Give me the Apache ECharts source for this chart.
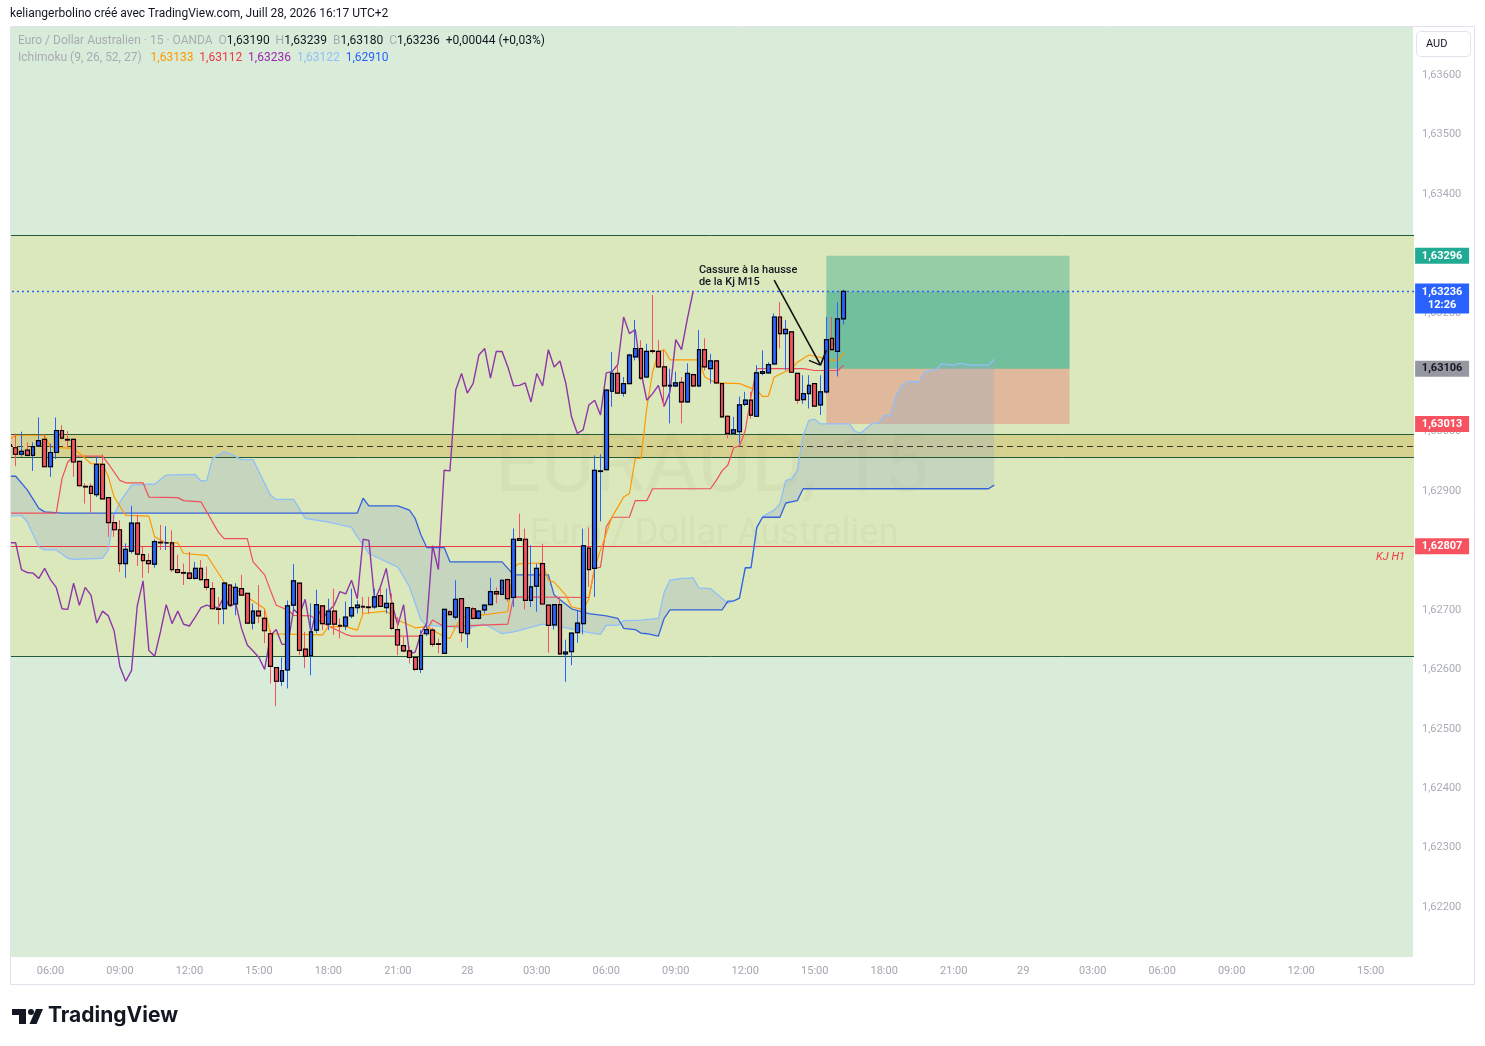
<!DOCTYPE html>
<html><head><meta charset="utf-8">
<script src="https://cdn.jsdelivr.net/npm/echarts@6/dist/echarts.min.js"></script>
<style>html,body{margin:0;padding:0;background:#fff}#c{width:1485px;height:1046px}</style>
</head><body><div id="c"></div>
<script>
// ---------- DATA ----------
// 15-minute candles [open, high, low, close], first bar = 27 Jul 04:15
const ohlc = [
[1.62978,1.62986,1.62969,1.62976],[1.62973,1.62997,1.62942,1.62962],[1.62962,1.63000,1.62958,1.62967],[1.62969,1.62982,1.62958,1.62960],
[1.62960,1.62982,1.62934,1.62975],[1.62976,1.63024,1.62974,1.62985],[1.62987,1.62995,1.62941,1.62941],[1.62941,1.62980,1.62924,1.62965],
[1.62965,1.63024,1.62954,1.63002],[1.63002,1.63011,1.62987,1.62989],[1.62987,1.63001,1.62974,1.62986],[1.62987,1.62988,1.62924,1.62949],
[1.62950,1.62951,1.62908,1.62909],[1.62908,1.62913,1.62879,1.62907],[1.62908,1.62913,1.62862,1.62896],[1.62894,1.62958,1.62890,1.62945],
[1.62945,1.62962,1.62886,1.62887],[1.62889,1.62890,1.62823,1.62847],[1.62847,1.62860,1.62823,1.62835],[1.62835,1.62851,1.62764,1.62778],
[1.62778,1.62812,1.62754,1.62802],[1.62799,1.62875,1.62795,1.62846],[1.62846,1.62860,1.62774,1.62794],[1.62793,1.62806,1.62754,1.62783],
[1.62783,1.62795,1.62762,1.62778],[1.62777,1.62819,1.62771,1.62815],[1.62814,1.62843,1.62801,1.62813],[1.62813,1.62841,1.62801,1.62813],
[1.62813,1.62834,1.62764,1.62768],[1.62768,1.62793,1.62761,1.62763],[1.62763,1.62778,1.62742,1.62762],[1.62762,1.62798,1.62751,1.62753],
[1.62753,1.62781,1.62751,1.62770],[1.62770,1.62784,1.62750,1.62751],[1.62751,1.62773,1.62733,1.62738],[1.62736,1.62747,1.62702,1.62702],
[1.62702,1.62722,1.62676,1.62701],[1.62702,1.62747,1.62676,1.62745],[1.62742,1.62743,1.62707,1.62708],[1.62710,1.62745,1.62691,1.62738],
[1.62736,1.62759,1.62725,1.62725],[1.62728,1.62728,1.62678,1.62678],[1.62678,1.62711,1.62667,1.62698],[1.62698,1.62742,1.62678,1.62690],
[1.62686,1.62700,1.62644,1.62665],[1.62660,1.62666,1.62576,1.62605],[1.62603,1.62603,1.62538,1.62580],[1.62580,1.62620,1.62572,1.62598],
[1.62599,1.62716,1.62568,1.62707],[1.62708,1.62777,1.62700,1.62749],[1.62745,1.62746,1.62624,1.62632],[1.62634,1.62663,1.62602,1.62622],
[1.62623,1.62711,1.62590,1.62663],[1.62666,1.62734,1.62661,1.62709],[1.62707,1.62708,1.62666,1.62677],[1.62676,1.62719,1.62666,1.62698],
[1.62698,1.62736,1.62658,1.62676],[1.62674,1.62686,1.62652,1.62673],[1.62673,1.62714,1.62666,1.62688],[1.62690,1.62736,1.62686,1.62704],
[1.62704,1.62716,1.62694,1.62708],[1.62706,1.62722,1.62694,1.62705],[1.62705,1.62722,1.62694,1.62704],[1.62705,1.62736,1.62702,1.62722],
[1.62724,1.62736,1.62705,1.62706],[1.62704,1.62736,1.62694,1.62711],[1.62711,1.62728,1.62666,1.62669],[1.62667,1.62688,1.62624,1.62641],
[1.62640,1.62655,1.62629,1.62631],[1.62631,1.62638,1.62610,1.62620],[1.62620,1.62621,1.62597,1.62600],[1.62600,1.62666,1.62594,1.62657],
[1.62660,1.62676,1.62656,1.62667],[1.62666,1.62670,1.62638,1.62642],[1.62643,1.62652,1.62627,1.62642],[1.62627,1.62702,1.62626,1.62701],
[1.62697,1.62700,1.62691,1.62692],[1.62688,1.62750,1.62684,1.62718],[1.62719,1.62720,1.62646,1.62662],[1.62660,1.62705,1.62636,1.62704],
[1.62702,1.62705,1.62684,1.62686],[1.62686,1.62700,1.62684,1.62698],[1.62700,1.62709,1.62694,1.62708],[1.62709,1.62754,1.62708,1.62731],
[1.62731,1.62738,1.62711,1.62727],[1.62726,1.62751,1.62725,1.62750],[1.62751,1.62753,1.62714,1.62719],[1.62721,1.62837,1.62705,1.62819],
[1.62820,1.62862,1.62816,1.62817],[1.62819,1.62837,1.62701,1.62716],[1.62716,1.62809,1.62705,1.62739],[1.62740,1.62778,1.62697,1.62770],
[1.62778,1.62811,1.62709,1.62710],[1.62708,1.62709,1.62628,1.62674],[1.62675,1.62710,1.62667,1.62709],[1.62709,1.62722,1.62625,1.62626],
[1.62626,1.62650,1.62579,1.62629],[1.62630,1.62662,1.62607,1.62661],[1.62662,1.62700,1.62645,1.62678],[1.62677,1.62837,1.62659,1.62808],
[1.62804,1.62839,1.62739,1.62768],[1.62770,1.62960,1.62722,1.62935],[1.62933,1.62962,1.62849,1.62934],[1.62936,1.63071,1.62935,1.63070],
[1.63068,1.63134,1.63042,1.63098],[1.63098,1.63112,1.63064,1.63065],[1.63065,1.63092,1.63059,1.63081],[1.63081,1.63131,1.63080,1.63129],
[1.63126,1.63188,1.63120,1.63140],[1.63140,1.63154,1.63087,1.63090],[1.63092,1.63148,1.63090,1.63135],[1.63136,1.63230,1.63131,1.63135],
[1.63135,1.63154,1.63108,1.63109],[1.63109,1.63137,1.63042,1.63077],[1.63077,1.63106,1.63014,1.63078],[1.63077,1.63101,1.63075,1.63082],
[1.63083,1.63092,1.63014,1.63050],[1.63050,1.63115,1.63049,1.63098],[1.63096,1.63098,1.63075,1.63077],[1.63077,1.63171,1.63075,1.63138],
[1.63138,1.63157,1.63103,1.63109],[1.63106,1.63131,1.63081,1.63119],[1.63119,1.63120,1.63081,1.63082],[1.63081,1.63082,1.63024,1.63025],
[1.63026,1.63027,1.62989,1.62997],[1.62997,1.63025,1.62994,1.63003],[1.63000,1.63059,1.62980,1.63045],[1.63046,1.63067,1.63043,1.63053],
[1.63053,1.63067,1.63022,1.63028],[1.63026,1.63112,1.63025,1.63099],[1.63098,1.63137,1.63095,1.63101],[1.63099,1.63117,1.63098,1.63113],
[1.63114,1.63199,1.63113,1.63193],[1.63193,1.63218,1.63140,1.63165],[1.63165,1.63188,1.63103,1.63172],[1.63168,1.63169,1.63099,1.63100],
[1.63098,1.63099,1.63047,1.63053],[1.63054,1.63095,1.63047,1.63064],[1.63064,1.63095,1.63039,1.63078],[1.63081,1.63082,1.63042,1.63043],
[1.63045,1.63095,1.63028,1.63067],[1.63067,1.63193,1.63064,1.63155],[1.63157,1.63193,1.63137,1.63138],[1.63135,1.63218,1.63093,1.63190],
[1.63190,1.63239,1.63180,1.63236]
];
const changeAbs = 0.00044, changePct = 0.03;

// Ichimoku lines: [bar index, price] at the vertices
const tenkan = [[0,1.62987],[1,1.62994],[6,1.62994],[7,1.62974],[11,1.62972],[13,1.62955],[14,1.62946],[16,1.62946],[17,1.62924],[18,1.62890],[20,1.62859],[24,1.62858],[25,1.62823],[27,1.62813],[29,1.62813],[30,1.62795],[34,1.62792],[37,1.62747],[41,1.62722],[44,1.62702],[45,1.62660],[54,1.62658],[55,1.62672],[58,1.62672],[60,1.62666],[61,1.62694],[65,1.62698],[67,1.62683],[70,1.62670],[72,1.62672],[75,1.62655],[76,1.62652],[77,1.62672],[78,1.62688],[81,1.62691],[86,1.62697],[87,1.62772],[88,1.62778],[92,1.62779],[93,1.62750],[94,1.62747],[96,1.62725],[97,1.62705],[99,1.62701],[100,1.62719],[101,1.62772],[104,1.62857],[105,1.62873],[106,1.62890],[107,1.62896],[108,1.62955],[109,1.62955],[110,1.63040],[111,1.63100],[112,1.63134],[113,1.63138],[114,1.63121],[119,1.63121],[120,1.63092],[122,1.63082],[126,1.63081],[127,1.63077],[129,1.63070],[130,1.63059],[131,1.63060],[132,1.63092],[135,1.63106],[136,1.63117],[138,1.63129],[140,1.63125],[141,1.63121],[143,1.63120],[144,1.63133]];
const kijun = [[0,1.62863],[8,1.62863],[9,1.62921],[10,1.62949],[11,1.62959],[16,1.62959],[17,1.62946],[19,1.62918],[20,1.62914],[23,1.62914],[24,1.62890],[29,1.62889],[30,1.62884],[33,1.62882],[36,1.62831],[37,1.62820],[41,1.62820],[42,1.62781],[44,1.62759],[45,1.62733],[46,1.62708],[48,1.62700],[49,1.62691],[52,1.62690],[55,1.62673],[58,1.62659],[59,1.62656],[71,1.62656],[72,1.62666],[73,1.62683],[75,1.62672],[86,1.62676],[87,1.62722],[100,1.62721],[101,1.62770],[102,1.62772],[103,1.62840],[104,1.62856],[107,1.62856],[108,1.62884],[110,1.62884],[111,1.62904],[121,1.62904],[122,1.62918],[123,1.62934],[124,1.62944],[125,1.62973],[126,1.62976],[127,1.63002],[128,1.63060],[129,1.63106],[137,1.63106],[139,1.63103],[143,1.63103],[144,1.63112]];
const senkouA = [[0,1.62858],[2,1.62859],[3,1.62848],[5,1.62806],[6,1.62801],[8,1.62801],[10,1.62787],[11,1.62785],[16,1.62787],[17,1.62801],[18,1.62859],[19,1.62882],[21,1.62910],[25,1.62912],[27,1.62927],[32,1.62928],[33,1.62917],[34,1.62918],[35,1.62955],[37,1.62966],[38,1.62963],[40,1.62953],[42,1.62953],[45,1.62893],[46,1.62886],[49,1.62886],[51,1.62854],[55,1.62848],[59,1.62839],[60,1.62823],[62,1.62795],[67,1.62772],[69,1.62739],[70,1.62711],[71,1.62683],[72,1.62674],[76,1.62672],[79,1.62667],[80,1.62672],[82,1.62676],[85,1.62660],[87,1.62663],[92,1.62676],[94,1.62674],[100,1.62662],[102,1.62659],[103,1.62674],[105,1.62674],[106,1.62682],[109,1.62683],[112,1.62686],[113,1.62730],[114,1.62750],[116,1.62753],[118,1.62754],[119,1.62737],[121,1.62736],[124,1.62711],[126,1.62720],[127,1.62770],[128,1.62772],[129,1.62839],[130,1.62857],[132,1.62868],[133,1.62879],[134,1.62918],[135,1.62920],[136,1.62935],[137,1.62993],[138,1.63019],[139,1.63021],[140,1.63013],[145,1.63013],[146,1.63000],[147,1.62998],[149,1.63014],[150,1.63014],[151,1.63028],[152,1.63026],[153,1.63059],[154,1.63077],[155,1.63084],[157,1.63084],[158,1.63101],[160,1.63105],[161,1.63114],[163,1.63112],[164,1.63115],[166,1.63112],[169,1.63112],[170,1.63122]];
const senkouB = [[0,1.62925],[1,1.62925],[3,1.62902],[5,1.62871],[6,1.62865],[9,1.62863],[60,1.62863],[61,1.62888],[62,1.62875],[67,1.62875],[69,1.62868],[70,1.62854],[71,1.62826],[72,1.62805],[75,1.62805],[76,1.62781],[85,1.62781],[87,1.62759],[93,1.62759],[94,1.62725],[97,1.62702],[100,1.62694],[103,1.62690],[105,1.62686],[106,1.62669],[108,1.62667],[109,1.62661],[110,1.62660],[112,1.62656],[113,1.62686],[114,1.62700],[123,1.62700],[124,1.62715],[125,1.62715],[126,1.62720],[127,1.62771],[128,1.62771],[129,1.62839],[130,1.62856],[133,1.62856],[134,1.62880],[136,1.62884],[137,1.62904],[169,1.62904],[170,1.62910]];
const chikouShift = 26;

// horizontal levels
const zoneLevels = [1.62622, 1.63331];     // large rectangle
const bandLevels = [1.62957, 1.62996];     // narrow band
const bandMid = 1.62976;                   // dashed line
const kjH1 = 1.62807;
const lastPrice = 1.63236;
// long position
const posTP = 1.63296, posEntry = 1.63106, posSL = 1.63013;
const posBars = [141, 182.5];
// arrow annotation [bar, price]
const arrowStart = [131.9, 1.63255], arrowTip = [140.2, 1.63112], arrowHead1 = [137.6, 1.63120], arrowHead2 = [140.8, 1.63137];
const notePos = [118.5, 1.63262];

const yTicks = [1.622,1.623,1.624,1.625,1.626,1.627,1.628,1.629,1.630,1.631,1.632,1.633,1.634,1.635,1.636];
const tickLabels = ['06:00','09:00','12:00','15:00','18:00','21:00','28','03:00','06:00','09:00','12:00','15:00','18:00','21:00','29','03:00','06:00','09:00','12:00','15:00'];
const firstTickBar = 7, barsPerTick = 12, barCount = 243;
const tagPrices = [posTP, lastPrice, posEntry, posSL, kjH1];

// ---------- BUILD ----------
const fmt = v => v.toFixed(5).replace('.', ',');
const categories = [];
for (let i = 0; i < barCount; i++) {
  const m = 4 * 60 + 15 + 15 * i;
  const d = 27 + Math.floor(m / 1440), mm = m % 1440;
  categories.push(d + ' ' + String(Math.floor(mm / 60)).padStart(2, '0') + ':' + String(mm % 60).padStart(2, '0'));
}
const candleFull = ohlc.map(r => [r[0], r[3], r[2], r[1]]);
const candleBody = ohlc.map(r => [r[0], r[3], Math.min(r[0], r[3]), Math.max(r[0], r[3])]);
const chikou = ohlc.slice(chikouShift).map((r, j) => [j, r[3]]);
const last = ohlc[ohlc.length - 1];

const FONT = 'Roboto, "Liberation Sans", sans-serif';
const tagStyle = [
  {bg:'#22ab94', fg:'#ffffff'}, {bg:'#2962ff', fg:'#ffffff'}, {bg:'#9598a1', fg:'#131722'},
  {bg:'#f7525f', fg:'#ffffff'}, {bg:'#f7525f', fg:'#ffffff'}
];

const chart = echarts.init(document.getElementById('c'));
const hl = (v, extra) => Object.assign({yAxis: v}, extra || {});
const greenLine = {color:'#245b3b', width:1, type:'solid'};
const LS = 12;

chart.setOption({
  animation: false,
  backgroundColor: '#ffffff',
  grid: {left: 7, right: 71, top: 27, bottom: 89, containLabel: false, outerBoundsMode: 'none'},
  xAxis: {
    type: 'category', data: categories, boundaryGap: true,
    axisLine: {show: false}, axisTick: {show: false}, splitLine: {show: false},
    axisLabel: {
      interval: (i) => i >= firstTickBar && (i - firstTickBar) % barsPerTick === 0,
      formatter: (v, i) => tickLabels[(i - firstTickBar) / barsPerTick] || '',
      color: '#a3a6af', fontSize: 11, margin: 9, fontFamily: FONT
    }
  },
  yAxis: {
    type: 'value', position: 'right', min: 1.62116, max: 1.63681, scale: true,
    axisLine: {show: false}, axisTick: {show: false}, splitLine: {show: false}, axisLabel: {show: false}
  },
  graphic: [
    {type:'rect', silent:true, z:-10, shape:{x:10, y:27, width:1403, height:930}, style:{fill:'#d8ecd9'}},
    {type:'text', silent:true, z:1.2, x:712, y:470, style:{text:'EURAUD, 15', fontSize:82, fontFamily:FONT, fill:'rgba(70,80,50,0.04)', align:'center', verticalAlign:'middle'}},
    {type:'text', silent:true, z:1.2, x:714, y:535, style:{text:'Euro / Dollar Australien', fontSize:36, fontFamily:FONT, fill:'rgba(70,80,50,0.04)', align:'center', verticalAlign:'middle'}},
    {type:'rect', silent:true, z:100, shape:{x:0, y:20, width:10, height:945}, style:{fill:'#ffffff'}},
    {type:'rect', silent:true, z:100, shape:{x:10.5, y:26.5, width:1464, height:958}, style:{fill:null, stroke:'#e0e3eb', lineWidth:1}},
    {type:'text', silent:true, z:100, x:10, y:14, style:{text:'keliangerbolino créé avec TradingView.com, Juill 28, 2026 16:17 UTC+2', fontSize:12, fontFamily:FONT, fill:'#131722', verticalAlign:'middle'}},
    {type:'text', silent:true, z:100, x:18, y:41, style:{
      text: '{g|Euro / Dollar Australien · 15 · OANDA  O}{d|' + fmt(last[0]) + '}{g|  H}{d|' + fmt(last[1]) + '}{g|  B}{d|' + fmt(last[2]) + '}{g|  C}{d|' + fmt(last[3]) + '}{d|  +' + fmt(changeAbs) + ' (+' + changePct.toFixed(2).replace('.', ',') + '%)}',
      verticalAlign:'middle', fontSize:LS, fontFamily:FONT,
      rich:{g:{fill:'#a8abb3', fontSize:LS, fontFamily:FONT}, d:{fill:'#131722', fontSize:LS, fontFamily:FONT}}}},
    {type:'text', silent:true, z:100, x:18, y:58, style:{
      text: '{g|Ichimoku (9, 26, 52, 27)   }{o|' + fmt(tenkan[tenkan.length-1][1]) + '  }{r|' + fmt(kijun[kijun.length-1][1]) + '  }{p|' + fmt(chikou[chikou.length-1][1]) + '  }{a|' + fmt(senkouA[senkouA.length-1][1]) + '  }{b|' + fmt(senkouB[senkouB.length-1][1]) + '}',
      verticalAlign:'middle', fontSize:LS, fontFamily:FONT,
      rich:{g:{fill:'#a8abb3', fontSize:LS, fontFamily:FONT}, o:{fill:'#ff9800', fontSize:LS, fontFamily:FONT}, r:{fill:'#f23645', fontSize:LS, fontFamily:FONT}, p:{fill:'#9c27b0', fontSize:LS, fontFamily:FONT}, a:{fill:'#90bff9', fontSize:LS, fontFamily:FONT}, b:{fill:'#2962ff', fontSize:LS, fontFamily:FONT}}}},
    {type:'rect', silent:true, z:100, shape:{x:1416.5, y:31.5, width:54, height:25, r:4}, style:{fill:'#ffffff', stroke:'#e0e3eb', lineWidth:1}},
    {type:'text', silent:true, z:101, x:1426, y:44.5, style:{text:'AUD', fontSize:11, fontFamily:FONT, fill:'#131722', verticalAlign:'middle'}},
    {type:'rect', silent:true, z:100, shape:{x:12, y:1009, width:14, height:6}, style:{fill:'#131722'}},
    {type:'rect', silent:true, z:100, shape:{x:19, y:1009, width:7, height:15}, style:{fill:'#131722'}},
    {type:'circle', silent:true, z:100, shape:{cx:31, cy:1012, r:3}, style:{fill:'#131722'}},
    {type:'polygon', silent:true, z:100, shape:{points:[[36,1009],[43,1009],[36.5,1024],[29.5,1024]]}, style:{fill:'#131722'}},
    {type:'text', silent:true, z:100, x:48, y:1016, style:{text:'TradingView', fontSize:21, fontWeight:'bold', fontFamily:'Inter, Roboto, sans-serif', fill:'#131722', verticalAlign:'middle'}}
  ],
  series: [
    {
      name: 'zones', type: 'line', data: [], z: 1, silent: true,
      markArea: {
        silent: true, z: 1,
        data: [
          [{yAxis: zoneLevels[0], itemStyle: {color: '#dbe8bb'}}, {yAxis: zoneLevels[1]}],
          [{yAxis: bandLevels[0], itemStyle: {color: '#d5d290'}}, {yAxis: bandLevels[1]}],
          [{xAxis: posBars[0], yAxis: posTP, itemStyle: {color: 'rgba(8,153,129,0.33)'}}, {xAxis: posBars[1], yAxis: posEntry}],
          [{xAxis: posBars[0], yAxis: lastPrice, itemStyle: {color: 'rgba(8,153,129,0.25)'}}, {xAxis: posBars[1], yAxis: posEntry}],
          [{xAxis: posBars[0], yAxis: posEntry, itemStyle: {color: 'rgba(242,54,69,0.27)'}}, {xAxis: posBars[1], yAxis: posSL}]
        ]
      }
    },
    {
      name: 'cloud', type: 'custom', z: 1.5, silent: true, data: [[0, senkouA[0][1]]],
      renderItem: (params, api) => {
        if (params.dataIndex !== 0) return null;
        const pts = senkouA.map(p => api.coord(p)).concat(senkouB.slice().reverse().map(p => api.coord(p)));
        return {type: 'polygon', shape: {points: pts}, style: {fill: 'rgba(150,172,200,0.30)', stroke: null}};
      }
    },
    {name:'SenkouA', type:'line', data: senkouA, z: 3, symbol:'none', silent:true, lineStyle:{color:'#90bff9', width:1.3}},
    {name:'SenkouB', type:'line', data: senkouB, z: 3, symbol:'none', silent:true, lineStyle:{color:'#3563dc', width:1.3}},
    {name:'Kijun', type:'line', data: kijun, z: 3, symbol:'none', silent:true, lineStyle:{color:'#ef4f5c', width:1.2},
      markLine: {
        silent: true, z: 7, symbol: ['none', 'none'], precision: 5,
        lineStyle: {color: 'rgba(0,0,0,0)', width: 1, type: 'solid'},
        data: yTicks.map(v => ({yAxis: v, lineStyle: {color: 'rgba(0,0,0,0)'}, label: {show: true, position: 'end', distance: 8, formatter: fmt(v), color: '#a9acb4', fontSize: 11, fontFamily: FONT}}))
      }
    },
    {name:'Tenkan', type:'line', data: tenkan, z: 3, symbol:'none', silent:true, lineStyle:{color:'#ff9800', width:1.2},
      markLine: {
        silent: true, z: 2, symbol: ['none', 'none'], label: {show: false}, precision: 5,
        data: [
          hl(zoneLevels[1], {lineStyle: greenLine}),
          hl(zoneLevels[0], {lineStyle: greenLine}),
          hl(bandLevels[1], {lineStyle: greenLine}),
          hl(bandLevels[0], {lineStyle: greenLine}),
          hl(bandMid, {lineStyle: {color: '#3a3a2a', width: 1, type: [6, 4]}}),
          hl(kjH1, {lineStyle: {color: '#f23645', width: 1, type: 'solid'},
            label: {show: true, position: 'insideEndBottom', formatter: 'KJ H1', color: '#f23645', fontStyle: 'italic', fontSize: 11, fontFamily: FONT, distance: [9, 5]}}),
          hl(lastPrice, {lineStyle: {color: '#2962ff', width: 1.3, type: [2, 3]}})
        ]
      }
    },
    {name:'Chikou', type:'line', data: chikou, z: 3, symbol:'none', silent:true, lineStyle:{color:'#8e36a8', width:1.4}},
    {
      name: 'wicks', type: 'candlestick', data: candleFull, z: 4, barWidth: 4.3, silent: true,
      itemStyle: {color: '#2962ff', color0: '#f7525f', borderColor: '#2962ff', borderColor0: '#f7525f', borderColorDoji: '#2962ff', borderWidth: 1}
    },
    {
      name: 'bodies', type: 'candlestick', data: candleBody, z: 5, barWidth: 4.3, silent: true,
      itemStyle: {color: '#2962ff', color0: '#f7525f', borderColor: '#000000', borderColor0: '#000000', borderColorDoji: '#000000', borderWidth: 1.2}
    },
    {
      name: 'annotation', type: 'line', data: [], z: 6, silent: true,
      markLine: {
        silent: true, z: 6, symbol: ['none', 'none'], label: {show: false}, precision: 5,
        lineStyle: {color: '#111111', width: 1.6, type: 'solid'},
        data: [
          [{coord: arrowStart}, {coord: arrowTip}],
          [{coord: arrowTip}, {coord: arrowHead1}],
          [{coord: arrowTip}, {coord: arrowHead2}]
        ]
      },
      markPoint: {
        silent: true, z: 6, symbol: 'circle', symbolSize: 0,
        data: [{coord: notePos, label: {show: true, position: 'right', distance: 0, formatter: 'Cassure à la hausse\nde la Kj M15', color: '#131722', fontSize: 11, lineHeight: 12, fontFamily: FONT, fontWeight: 500}}]
      }
    },
    {
      name: 'priceTags', type: 'line', data: [], z: 8, silent: true,
      markPoint: {
        silent: true, z: 8, symbol: 'rect',
        data: tagPrices.map((v, k) => ({
          coord: [barCount - 1, v],
          symbolSize: k === 1 ? [54, 30] : [54, 16],
          symbolOffset: [31, k === 1 ? 7 : 0],
          itemStyle: {color: tagStyle[k].bg},
          label: {show: true, position: 'inside', formatter: k === 1 ? fmt(v) + '\n12:26' : fmt(v), color: tagStyle[k].fg, fontSize: 11, fontWeight: 'bold', fontFamily: FONT, lineHeight: 13}
        }))
      }
    }
  ]
});
</script>
</body></html>
